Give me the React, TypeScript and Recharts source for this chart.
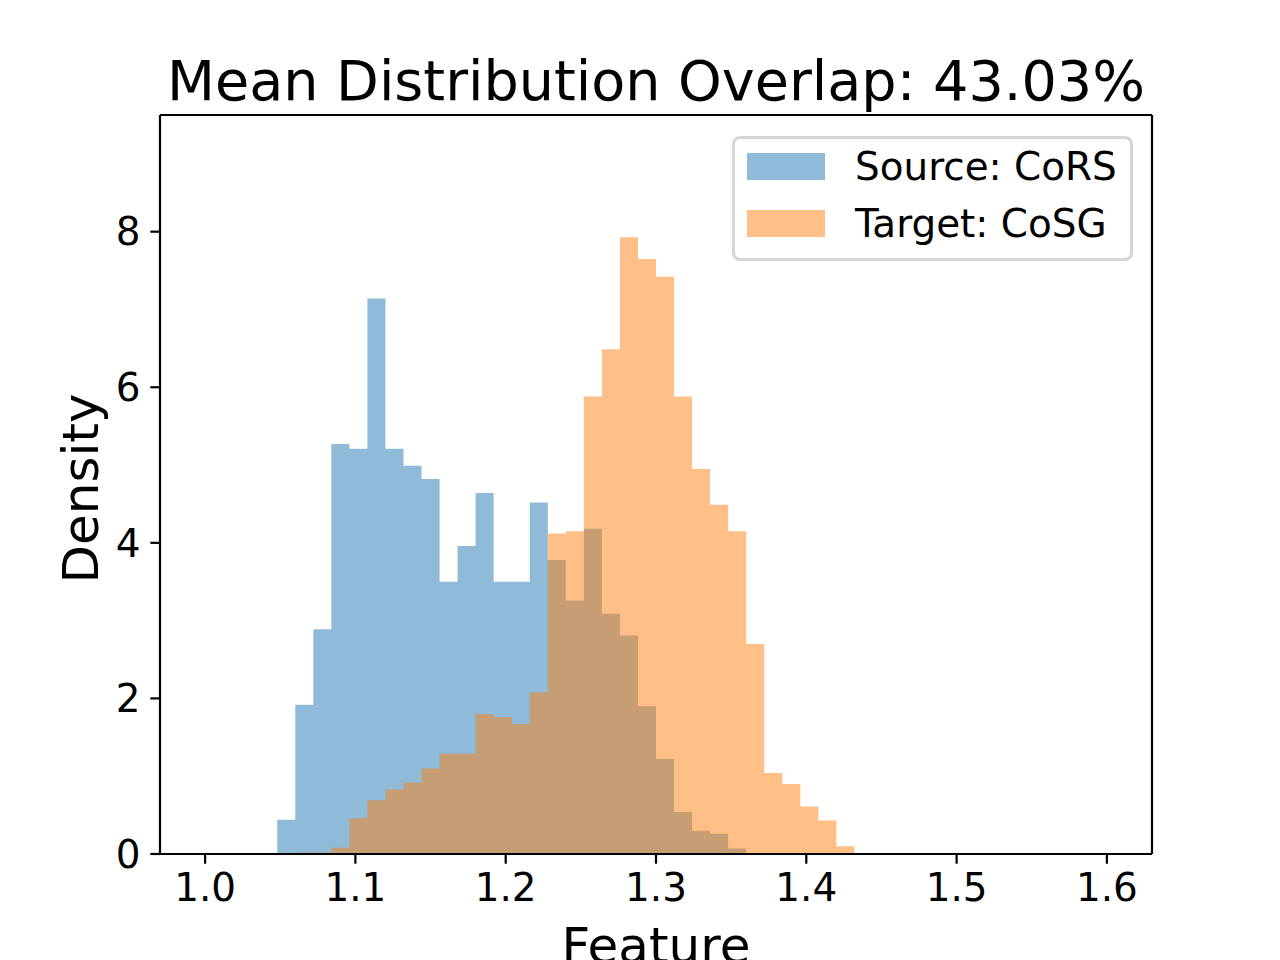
import React from 'react';
import { AreaChart, Area, XAxis, YAxis, Legend } from 'recharts';

const FONT = '"DejaVu Sans", sans-serif';

// histogram bins: 50 bins of width 0.012 between 1.0 and 1.6
const binEdges = [
  1.0, 1.012, 1.024, 1.036, 1.048, 1.06, 1.072, 1.084, 1.096, 1.108,
  1.12, 1.132, 1.144, 1.156, 1.168, 1.18, 1.192, 1.204, 1.216, 1.228,
  1.24, 1.252, 1.264, 1.276, 1.288, 1.3, 1.312, 1.324, 1.336, 1.348,
  1.36, 1.372, 1.384, 1.396, 1.408, 1.42, 1.432, 1.444, 1.456, 1.468,
  1.48, 1.492, 1.504, 1.516, 1.528, 1.54, 1.552, 1.564, 1.576, 1.588,
  1.6,
];

// density per bin (one value per bin, left to right)
const sourceDensity = [
  0, 0, 0, 0, 0.44, 1.92, 2.89, 5.27, 5.21, 7.14,
  5.21, 4.99, 4.82, 3.5, 3.96, 4.64, 3.5, 3.5, 4.52, 3.78,
  3.26, 4.18, 3.09, 2.81, 1.9, 1.22, 0.54, 0.3, 0.26, 0.07,
  0, 0, 0, 0, 0, 0, 0, 0, 0, 0,
  0, 0, 0, 0, 0, 0, 0, 0, 0, 0,
];

const targetDensity = [
  0, 0, 0, 0, 0, 0.02, 0.02, 0.08, 0.46, 0.69,
  0.83, 0.92, 1.1, 1.29, 1.29, 1.8, 1.76, 1.67, 2.08, 4.12,
  4.15, 5.88, 6.49, 7.93, 7.65, 7.42, 5.88, 4.95, 4.49, 4.15,
  2.7, 1.04, 0.9, 0.61, 0.43, 0.1, 0, 0, 0, 0,
  0, 0, 0, 0, 0, 0, 0, 0, 0, 0,
];

const xTicks = [1.0, 1.1, 1.2, 1.3, 1.4, 1.5, 1.6];
const yTicks = [0, 2, 4, 6, 8];

const series = [
  { key: 'source', name: 'Source: CoRS', color: '#1f77b4' },
  { key: 'target', name: 'Target: CoSG', color: '#ff7f0e' },
];

// every edge holds the density of the bin starting there; the last edge closes the step at 0
const histData = binEdges.map((x, i) => ({
  x,
  source: sourceDensity[i] ?? 0,
  target: targetDensity[i] ?? 0,
}));

const tickStyle = { fill: '#000', fontSize: 38.9, fontFamily: FONT };
const lineStyle = { stroke: '#000', strokeWidth: 2.2 };

const hexToRgba = (hex: string, a: number) => {
  const n = parseInt(hex.slice(1), 16);
  return `rgba(${(n >> 16) & 255}, ${(n >> 8) & 255}, ${n & 255}, ${a})`;
};

const renderLegend = ({ payload }: any) => (
  <div
    style={{
      boxSizing: 'border-box',
      width: 401,
      height: 125,
      border: '3px solid #d6d6d6',
      borderRadius: 8,
      background: 'rgba(255,255,255,0.8)',
      paddingLeft: 12,
      display: 'flex',
      flexDirection: 'column',
      gap: 2,
      fontFamily: FONT,
    }}
  >
    {(payload ?? []).map((entry: any) => {
      const s = series.find((d) => d.key === entry.dataKey) ?? series[0];
      return (
        <div key={s.key} style={{ height: 55, display: 'flex', alignItems: 'center' }}>
          <span
            style={{
              display: 'inline-block',
              width: 78,
              height: 27,
              background: hexToRgba(s.color, 0.5),
            }}
          />
          <span style={{ marginLeft: 30, fontSize: 38.9, color: '#000' }}>{s.name}</span>
        </div>
      );
    })}
  </div>
);

// axis boxes are 1px thick; the axis line sits on the plot edge
const yTitle = ({ viewBox }: any) => {
  const x = viewBox.x + viewBox.width - 62;
  const y = viewBox.y + viewBox.height / 2 + 4;
  return (
    <text x={x} y={y} transform={`rotate(-90 ${x} ${y})`} textAnchor="middle" fontSize={50} fontFamily={FONT} fill="#000">
      Density
    </text>
  );
};

const xTitle = ({ viewBox }: any) => (
  <text
    x={viewBox.x + viewBox.width / 2}
    y={viewBox.y + 109}
    textAnchor="middle"
    fontSize={50}
    fontFamily={FONT}
    fill="#000"
  >
    Feature
  </text>
);

export default function App() {
  return (
    <div style={{ position: 'absolute', left: 0, top: 0, width: 1280, height: 960, background: '#fff', fontFamily: FONT }}>
      <AreaChart width={1280} height={960} data={histData} margin={{ top: 114, right: 127, bottom: 105, left: 159 }}>
        <XAxis
          type="number"
          dataKey="x"
          domain={[0.97, 1.63]}
          allowDataOverflow
          ticks={xTicks}
          interval={0}
          tickFormatter={(v: number) => v.toFixed(1)}
          height={1}
          tick={tickStyle}
          tickSize={9.7}
          tickMargin={9.7}
          tickLine={lineStyle}
          axisLine={lineStyle}
          label={xTitle}
        />
        <XAxis
          xAxisId="top"
          orientation="top"
          type="number"
          dataKey="x"
          domain={[0.97, 1.63]}
          allowDataOverflow
          height={1}
          tick={false}
          tickLine={false}
          axisLine={lineStyle}
        />
        <YAxis
          type="number"
          domain={[0, 9.5]}
          allowDataOverflow
          ticks={yTicks}
          interval={0}
          width={1}
          tick={tickStyle}
          tickSize={9.7}
          tickMargin={9.7}
          tickLine={lineStyle}
          axisLine={lineStyle}
          label={yTitle}
        />
        <YAxis
          yAxisId="right"
          orientation="right"
          type="number"
          domain={[0, 9.5]}
          allowDataOverflow
          width={1}
          tick={false}
          tickLine={false}
          axisLine={lineStyle}
        />
        {series.map((s) => (
          <Area
            key={s.key}
            type="stepAfter"
            dataKey={s.key}
            name={s.name}
            stroke="none"
            fill={s.color}
            fillOpacity={0.5}
            dot={false}
            activeDot={false}
            isAnimationActive={false}
          />
        ))}
        <Legend
          layout="horizontal"
          verticalAlign="middle"
          align="center"
          wrapperStyle={{ top: 136, left: 732, width: 401, height: 125 }}
          content={renderLegend}
        />
      </AreaChart>
      <div
        style={{
          position: 'absolute',
          left: 160,
          top: 53,
          width: 992,
          textAlign: 'center',
          fontSize: 55.6,
          lineHeight: 1,
          color: '#000',
          whiteSpace: 'nowrap',
        }}
      >
        Mean Distribution Overlap: 43.03%
      </div>
    </div>
  );
}
